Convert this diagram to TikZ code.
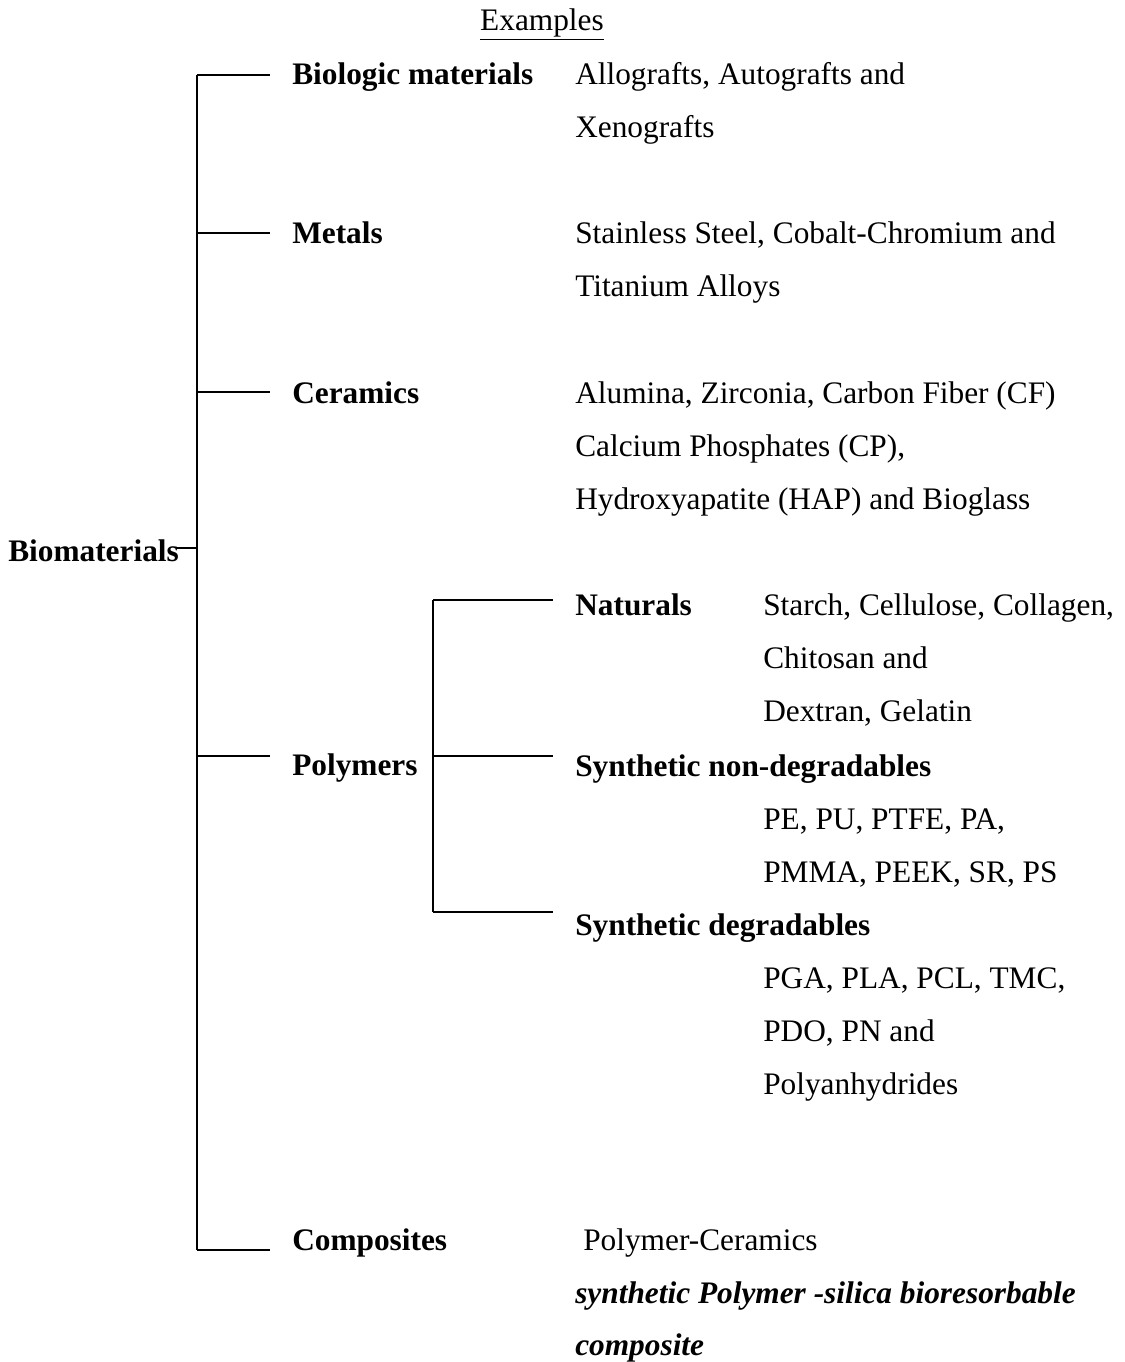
\documentclass[tikz,border=0pt]{standalone}
\usepackage{fontspec}
\setmainfont{Liberation Serif}
\usetikzlibrary{positioning}

\begin{document}
\begin{tikzpicture}[
  x=0.75pt, y=-0.75pt,
  font=\fontsize{23.5}{28}\selectfont,
  txt/.style={anchor=base west, inner sep=0pt},
  head/.style={txt, font=\fontsize{23.5}{28}\selectfont\bfseries},
  ln/.style={line width=1.4pt}
]
  \useasboundingbox (0,0) rectangle (1124,1362);

  \node[txt, anchor=base] (ex) at (542,31) {\underline{Examples}};

  % main classes
  \node[head] (bio) at (8,561) {Biomaterials};
  \node[head] (biol) at (292,85) {Biologic materials};
  \node[head] (met) at (292,244) {Metals};
  \node[head] (cer) at (292,403) {Ceramics};
  \node[head] (pol) at (292,775) {Polymers};
  \node[head] (comp) at (292,1250) {Composites};

  % spine and branches
  \coordinate (top) at (197,75);
  \coordinate (bot) at (197,1250);
  \coordinate (bmet) at (197,233);
  \coordinate (bcer) at (197,392);
  \coordinate (bpol) at (197,756);
  \coordinate (bbio) at (197,548);
  \draw[ln] (top) -- (bot);
  \draw[ln] ([xshift=-2pt]bbio -| bio.east) -- (bbio);
  \draw[ln] (top) -- ([xshift=-16.5pt]top -| biol.west);
  \draw[ln] (bmet) -- ([xshift=-16.5pt]bmet -| met.west);
  \draw[ln] (bcer) -- ([xshift=-16.5pt]bcer -| cer.west);
  \draw[ln] (bpol) -- ([xshift=-16.5pt]bpol -| pol.west);
  \draw[ln] (bot) -- ([xshift=-16.5pt]bot -| comp.west);

  % examples
  \node[txt] (e1) at (575,85) {Allografts, Autografts and};
  \node[txt] (e2) at (575,138) {Xenografts};
  \node[txt] (e3) at (575,244) {Stainless Steel, Cobalt-Chromium and};
  \node[txt] (e4) at (575,297) {Titanium Alloys};
  \node[txt] (e5) at (575,403) {Alumina, Zirconia, Carbon Fiber (CF)};
  \node[txt] (e6) at (575,456) {Calcium Phosphates (CP),};
  \node[txt] (e7) at (575,509) {Hydroxyapatite (HAP) and Bioglass};

  % polymer subclasses
  \node[head] (nat) at (575,615) {Naturals};
  \node[head] (nondeg) at (575,776) {Synthetic non-degradables};
  \node[head] (deg) at (575,935) {Synthetic degradables};

  \coordinate (ptop) at (433,600);
  \coordinate (pmid) at (433,756);
  \coordinate (pbot) at (433,912);
  \draw[ln] (ptop) -- (pbot);
  \draw[ln] (ptop) -- ([xshift=-16.5pt]ptop -| nat.west);
  \draw[ln] (pmid) -- ([xshift=-16.5pt]pmid -| nondeg.west);
  \draw[ln] (pbot) -- ([xshift=-16.5pt]pbot -| deg.west);

  \node[txt] (n1) at (763,615) {Starch, Cellulose, Collagen,};
  \node[txt] (n2) at (763,668) {Chitosan and};
  \node[txt] (n3) at (763,721) {Dextran, Gelatin};
  \node[txt] (s1) at (763,829) {PE, PU, PTFE, PA,};
  \node[txt] (s2) at (763,882) {PMMA, PEEK, SR, PS};
  \node[txt] (d1) at (763,988) {PGA, PLA, PCL, TMC,};
  \node[txt] (d2) at (763,1041) {PDO, PN and};
  \node[txt] (d3) at (763,1094) {Polyanhydrides};

  \node[txt] (c1) at (583,1250) {Polymer-Ceramics};
  \node[txt] (c2) at (575,1303) {\textbf{\textit{synthetic Polymer -silica bioresorbable}}};
  \node[txt] (c3) at (575,1355) {\textbf{\textit{composite}}};
\end{tikzpicture}
\end{document}
